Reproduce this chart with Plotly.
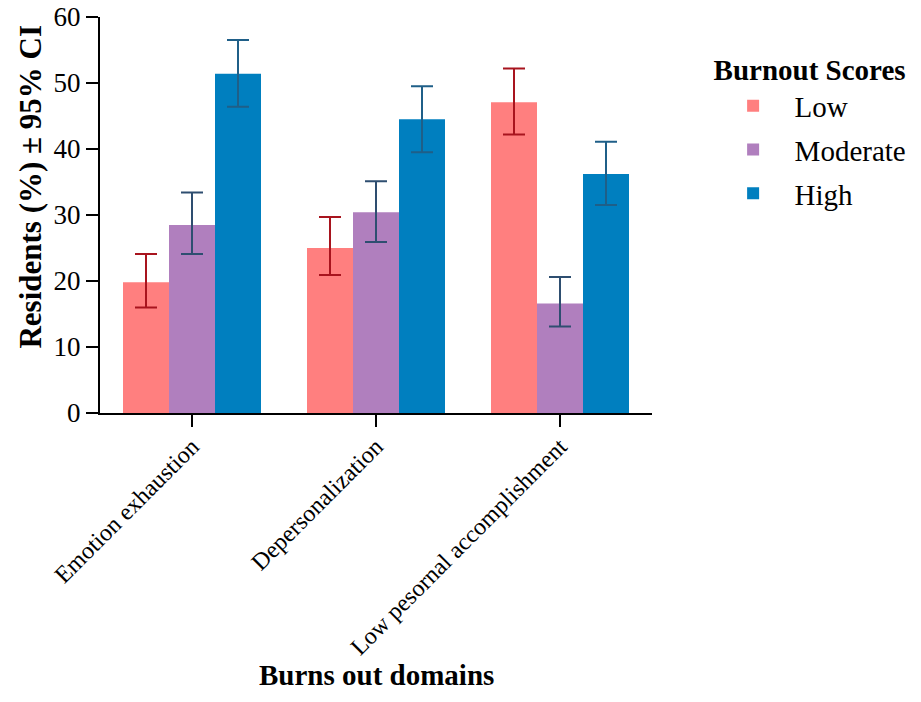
import plotly.graph_objects as go

categories = ["Emotion exhaustion", "Depersonalization", "Low pesornal accomplishment"]
series_names = ["Low", "Moderate", "High"]
low_vals = [19.8, 25.0, 47.1]
low_upper = [24.1, 29.7, 52.2]
low_lower = [16.0, 20.9, 42.2]
mod_vals = [28.5, 30.4, 16.6]
mod_upper = [33.4, 35.1, 20.6]
mod_lower = [24.1, 25.9, 13.1]
high_vals = [51.4, 44.5, 36.2]
high_upper = [56.5, 49.5, 41.1]
high_lower = [46.4, 39.5, 31.5]

bar_colors = ["#FF7F7F", "#B07FBE", "#007FBF"]
err_colors = ["#A8141E", "#2E4E70", "#1F5F88"]

font_family = "Liberation Serif, Times New Roman, serif"

fig = go.Figure()
for i, (name, vals, up, lo) in enumerate([
    ("Low", low_vals, low_upper, low_lower),
    ("Moderate", mod_vals, mod_upper, mod_lower),
    ("High", high_vals, high_upper, high_lower),
]):
    fig.add_trace(go.Bar(
        x=categories, y=vals, name=name,
        marker=dict(color=bar_colors[i], line=dict(width=0)),
        legendgroup=name,
        error_y=dict(
            type="data", symmetric=False,
            array=[u - v for u, v in zip(up, vals)],
            arrayminus=[v - l for v, l in zip(vals, lo)],
            color=err_colors[i], thickness=2, width=11,
        ),
    ))

fig.update_layout(
    width=913, height=686,
    margin=dict(l=92, r=266, t=9, b=281),
    paper_bgcolor="white", plot_bgcolor="white",
    barmode="group", bargap=0.25, bargroupgap=0,
    font=dict(family=font_family, size=28, color="black"),
    showlegend=True,
    legend=dict(
        x=1.108, y=0.935, xanchor="left", yanchor="top",
        title=dict(text="<b>Burnout Scores</b>", font=dict(size=29)),
        font=dict(size=29),
        tracegroupgap=3,
        itemwidth=73,
        bgcolor="rgba(0,0,0,0)",
    ),
    xaxis=dict(
        showline=True, linecolor="black", linewidth=2,
        ticks="outside", ticklen=12, tickwidth=2, tickcolor="black",
        tickangle=-45, tickfont=dict(size=24), ticklabelstandoff=-4,
        showgrid=False, automargin=False,
        range=[-0.5, 2.5],
    ),
    yaxis=dict(
        showline=True, linecolor="black", linewidth=2,
        ticks="outside", ticklen=12, tickwidth=2, tickcolor="black",
        range=[0, 60], dtick=10, tickfont=dict(size=27),
        ticklabeloverflow="allow",
        showgrid=False, zeroline=False, automargin=False,
    ),
    annotations=[
        dict(text="<b>Burns out domains</b>", xref="paper", yref="paper",
             x=0.5, y=-0.6616, xanchor="center", yanchor="middle",
             showarrow=False, font=dict(size=29)),
        dict(text="<b>Residents (%) ± 95% CI</b>", xref="paper", yref="paper",
             x=-0.126, y=0.573, xanchor="center", yanchor="middle", textangle=-90,
             showarrow=False, font=dict(size=31)),
    ],
)

fig.write_html("out.html")
